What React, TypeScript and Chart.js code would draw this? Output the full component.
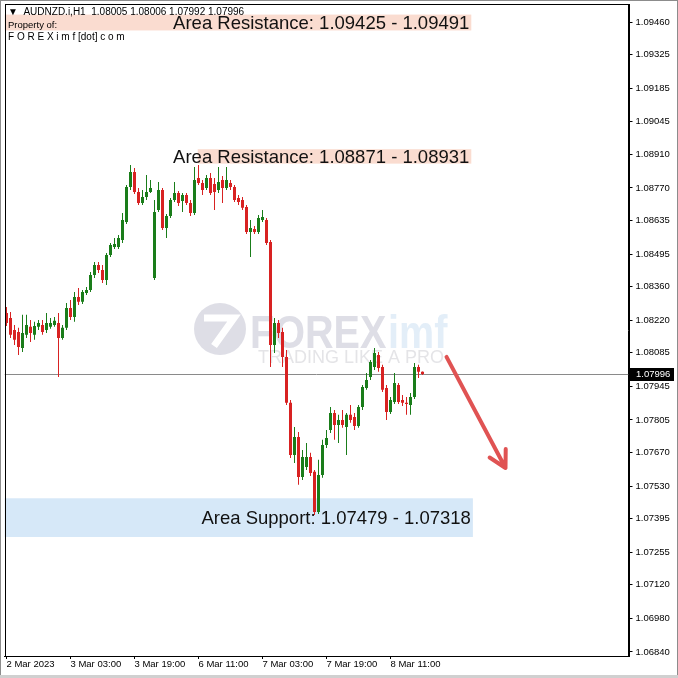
import React, { useEffect, useRef } from 'react';
import { Chart, registerables } from 'chart.js';
Chart.register(...registerables);

const HEADER = '▼  AUDNZD.i,H1  1.08005 1.08006 1.07992 1.07996';
const OWNER_1 = 'Property of:';
const OWNER_2 = 'F O R E X i m f [dot] c o m';

const OPEN = [1.08250,1.08229,1.08179,1.08171,1.08104,1.08159,1.08192,1.08159,1.08192,1.08200,1.08179,1.08192,1.08200,1.08208,1.08146,1.08188,1.08270,1.08233,1.08316,1.08296,1.08333,1.08345,1.08408,1.08449,1.08429,1.08387,1.08491,1.08524,1.08524,1.08553,1.08628,1.08774,1.08836,1.08753,1.08707,1.08732,1.08753,1.08395,1.08678,1.08761,1.08603,1.08653,1.08720,1.08749,1.08716,1.08741,1.08707,1.08666,1.08811,1.08790,1.08770,1.08811,1.08786,1.08761,1.08803,1.08770,1.08790,1.08774,1.08728,1.08720,1.08691,1.08587,1.08599,1.08587,1.08637,1.08637,1.08545,1.08117,1.08208,1.08171,1.08067,1.07876,1.07659,1.07734,1.07568,1.07609,1.07651,1.07589,1.07422,1.07576,1.07701,1.07763,1.07834,1.07784,1.07805,1.07776,1.07826,1.07817,1.07780,1.07859,1.07938,1.07984,1.08025,1.08075,1.08025,1.07938,1.07838,1.07880,1.07950,1.07888,1.07876,1.07867,1.07900,1.08025,1.08005];
const HIGH = [1.08275,1.08254,1.08200,1.08188,1.08242,1.08242,1.08221,1.08213,1.08221,1.08221,1.08250,1.08229,1.08233,1.08250,1.08200,1.08291,1.08304,1.08337,1.08354,1.08345,1.08358,1.08420,1.08462,1.08462,1.08449,1.08499,1.08541,1.08562,1.08574,1.08666,1.08782,1.08865,1.08853,1.08770,1.08761,1.08824,1.08803,1.08720,1.08795,1.08770,1.08662,1.08728,1.08795,1.08757,1.08749,1.08749,1.08720,1.08857,1.08865,1.08803,1.08824,1.08832,1.08811,1.08857,1.08820,1.08857,1.08803,1.08782,1.08741,1.08732,1.08699,1.08637,1.08612,1.08657,1.08678,1.08645,1.08553,1.08229,1.08221,1.08188,1.08096,1.07888,1.07776,1.07755,1.07680,1.07709,1.07668,1.07597,1.07639,1.07722,1.07763,1.07859,1.07846,1.07826,1.07846,1.07834,1.07867,1.07834,1.07867,1.07950,1.08000,1.08054,1.08104,1.08088,1.08034,1.07950,1.07900,1.08000,1.07959,1.07909,1.07900,1.07917,1.08042,1.08034,1.08006];
const LOW = [1.08196,1.08146,1.08117,1.08075,1.08088,1.08146,1.08129,1.08138,1.08179,1.08159,1.08167,1.08184,1.08192,1.07984,1.08138,1.08179,1.08221,1.08213,1.08283,1.08287,1.08325,1.08337,1.08395,1.08416,1.08375,1.08366,1.08483,1.08516,1.08516,1.08541,1.08620,1.08761,1.08745,1.08699,1.08699,1.08720,1.08749,1.08387,1.08670,1.08595,1.08562,1.08645,1.08711,1.08695,1.08670,1.08699,1.08653,1.08657,1.08782,1.08741,1.08761,1.08741,1.08678,1.08749,1.08707,1.08761,1.08761,1.08711,1.08699,1.08678,1.08578,1.08483,1.08578,1.08578,1.08628,1.08533,1.08025,1.08083,1.08146,1.08025,1.07867,1.07647,1.07626,1.07535,1.07555,1.07597,1.07572,1.07410,1.07414,1.07564,1.07688,1.07751,1.07722,1.07709,1.07772,1.07659,1.07793,1.07763,1.07772,1.07846,1.07930,1.07971,1.08013,1.08005,1.07921,1.07805,1.07830,1.07871,1.07871,1.07863,1.07826,1.07826,1.07892,1.07979,1.07992];
const CLOSE = [1.08208,1.08159,1.08138,1.08108,1.08167,1.08200,1.08167,1.08196,1.08208,1.08171,1.08208,1.08208,1.08217,1.08146,1.08188,1.08270,1.08233,1.08316,1.08296,1.08337,1.08345,1.08408,1.08449,1.08429,1.08387,1.08491,1.08533,1.08537,1.08562,1.08637,1.08774,1.08836,1.08753,1.08707,1.08732,1.08753,1.08770,1.08670,1.08761,1.08603,1.08653,1.08720,1.08749,1.08707,1.08741,1.08707,1.08666,1.08803,1.08790,1.08761,1.08811,1.08749,1.08753,1.08795,1.08770,1.08803,1.08774,1.08720,1.08711,1.08687,1.08587,1.08603,1.08587,1.08645,1.08649,1.08541,1.08117,1.08208,1.08167,1.08067,1.07876,1.07659,1.07734,1.07568,1.07651,1.07651,1.07584,1.07422,1.07576,1.07701,1.07730,1.07834,1.07784,1.07805,1.07784,1.07826,1.07805,1.07780,1.07859,1.07942,1.07971,1.08046,1.08083,1.08021,1.07930,1.07838,1.07888,1.07959,1.07880,1.07876,1.07871,1.07900,1.08025,1.08005,1.07996];

const EMPTY_BARS = 51;
const X_TICK_LABELS = ['2 Mar 2023', '3 Mar 03:00', '3 Mar 19:00', '6 Mar 11:00', '7 Mar 03:00', '7 Mar 19:00', '8 Mar 11:00'];
const X_TICK_STEP = 16;
const Y_TICK_LABELS = ['1.06840','1.06980','1.07120','1.07255','1.07395','1.07530','1.07670','1.07805','1.07945','1.08085','1.08220','1.08360','1.08495','1.08635','1.08770','1.08910','1.09045','1.09185','1.09325','1.09460'];
const Y_MIN = 1.06823;
const Y_MAX = 1.09535;
const LAST_PRICE = 1.07996;

const RES_ZONE_1 = [1.09425, 1.09491];
const RES_ZONE_1_X = [-0.5, 116.2];
const RES_ZONE_2 = [1.08871, 1.08931];
const RES_ZONE_2_X = [47.8, 116.2];
const SUP_ZONE = [1.07318, 1.07479];
const SUP_ZONE_X = [-0.5, 116.6];
const RES_LABEL_1 = 'Area Resistance: 1.09425 - 1.09491';
const RES_LABEL_2 = 'Area Resistance: 1.08871 - 1.08931';
const SUP_LABEL = 'Area Support: 1.07479 - 1.07318';

const ARROW_FROM = [110, 1.08067];
const ARROW_TO = [124.75, 1.07605];

const UP = '#1a7d1a';
const DOWN = '#d82222';
const FONT = '"Liberation Sans", Arial, sans-serif';

export default function App() {
  const ref = useRef<HTMLCanvasElement>(null);
  useEffect(() => {
    const canvas = ref.current!;
    const n = OPEN.length + EMPTY_BARS;
    const labels = Array.from({ length: n }, (_, i) => String(i));
    const colors = OPEN.map((o, i) => (CLOSE[i] >= o ? UP : DOWN));

    const deco = {
      id: 'deco',
      beforeDraw(chart: any) {
        const { ctx } = chart;
        ctx.save();
        ctx.fillStyle = '#ffffff';
        ctx.fillRect(0, 0, chart.width, chart.height);
        ctx.restore();
      },
      beforeDatasetsDraw(chart: any) {
        const { ctx, chartArea: a, scales } = chart;
        const x = scales.x, y = scales.y;
        ctx.save();
        ctx.beginPath();
        ctx.rect(a.left, a.top, a.right - a.left, a.bottom - a.top);
        ctx.clip();
        const zone = (p: number[], xs: number[], col: string) => {
          const x1 = x.getPixelForValue(xs[0]);
          const x2 = x.getPixelForValue(xs[1]);
          const y1 = y.getPixelForValue(p[1]);
          const y2 = y.getPixelForValue(p[0]);
          ctx.fillStyle = col;
          ctx.fillRect(x1, y1, x2 - x1, y2 - y1);
        };
        zone(RES_ZONE_1, RES_ZONE_1_X, '#fadcd0');
        zone(RES_ZONE_2, RES_ZONE_2_X, '#fadcd0');
        zone(SUP_ZONE, SUP_ZONE_X, '#d6e8f8');

        // watermark
        ctx.fillStyle = 'rgba(190,190,205,0.5)';
        ctx.beginPath();
        ctx.arc(220, 329, 26, 0, Math.PI * 2);
        ctx.fill();
        ctx.strokeStyle = '#ffffff';
        ctx.lineWidth = 7;
        ctx.beginPath();
        ctx.moveTo(204, 318);
        ctx.lineTo(234, 318);
        ctx.lineTo(214, 346);
        ctx.stroke();
        ctx.save();
        ctx.translate(250, 348);
        ctx.scale(0.86, 1);
        ctx.font = `bold 46px ${FONT}`;
        ctx.textBaseline = 'alphabetic';
        ctx.fillStyle = 'rgba(190,190,205,0.5)';
        ctx.fillText('FOREX', 0, 0);
        const w = ctx.measureText('FOREX').width;
        ctx.fillStyle = 'rgba(200,222,242,0.5)';
        ctx.fillText('imf', w + 2, 0);
        ctx.restore();
        ctx.font = `18px ${FONT}`;
        ctx.fillStyle = 'rgba(205,205,212,0.55)';
        ctx.textBaseline = 'middle';
        ctx.fillText('TRADING LIKE A PRO', 258, 358);

        // current price line
        const py = Math.round(y.getPixelForValue(LAST_PRICE)) + 0.5;
        ctx.strokeStyle = '#8a8a8a';
        ctx.lineWidth = 1;
        ctx.beginPath();
        ctx.moveTo(a.left, py);
        ctx.lineTo(a.right, py);
        ctx.stroke();
        ctx.restore();
      },
      afterDatasetsDraw(chart: any) {
        const { ctx, scales } = chart;
        const x = scales.x, y = scales.y;
        ctx.save();
        ctx.font = `18.5px ${FONT}`;
        ctx.fillStyle = '#111111';
        ctx.textAlign = 'right';
        ctx.textBaseline = 'middle';
        const label = (t: string, p: number[], xs: number[]) => {
          const xr = x.getPixelForValue(xs[1]) - 2;
          const yc = (y.getPixelForValue(p[0]) + y.getPixelForValue(p[1])) / 2 + 1;
          ctx.fillText(t, xr, yc);
        };
        label(RES_LABEL_1, RES_ZONE_1, RES_ZONE_1_X);
        label(RES_LABEL_2, RES_ZONE_2, RES_ZONE_2_X);
        label(SUP_LABEL, SUP_ZONE, SUP_ZONE_X);

        // arrow
        const x1 = x.getPixelForValue(ARROW_FROM[0]);
        const y1 = y.getPixelForValue(ARROW_FROM[1]);
        const x2 = x.getPixelForValue(ARROW_TO[0]);
        const y2 = y.getPixelForValue(ARROW_TO[1]);
        const ang = Math.atan2(y2 - y1, x2 - x1);
        ctx.strokeStyle = '#e05353';
        ctx.lineWidth = 4;
        ctx.lineCap = 'round';
        ctx.beginPath();
        ctx.moveTo(x1, y1);
        ctx.lineTo(x2, y2);
        const L = 19;
        ctx.moveTo(x2, y2);
        ctx.lineTo(x2 - L * Math.cos(ang - 0.5), y2 - L * Math.sin(ang - 0.5));
        ctx.moveTo(x2, y2);
        ctx.lineTo(x2 - L * Math.cos(ang + 0.5), y2 - L * Math.sin(ang + 0.5));
        ctx.stroke();
        ctx.restore();
      },
      afterDraw(chart: any) {
        const { ctx, chartArea: a, scales } = chart;
        const y = scales.y;
        ctx.save();
        ctx.strokeStyle = '#000000';
        ctx.lineWidth = 1;
        ctx.strokeRect(Math.round(a.left) + 0.5, Math.round(a.top) + 0.5, Math.round(a.right - a.left), Math.round(a.bottom - a.top));
        ctx.strokeStyle = '#8c8c8c';
        ctx.strokeRect(0.5, 0.5, chart.width - 1, chart.height - 1);
        ctx.fillStyle = '#d0d0d0';
        ctx.fillRect(0, chart.height - 3, chart.width, 3);

        // header
        ctx.fillStyle = '#000000';
        ctx.textBaseline = 'middle';
        ctx.textAlign = 'left';
        ctx.font = `10px ${FONT}`;
        ctx.fillText(HEADER, 8, 12);
        ctx.font = `9.5px ${FONT}`;
        ctx.fillText(OWNER_1, 8, 25);
        ctx.font = `10px ${FONT}`;
        ctx.fillText(OWNER_2, 8, 37);

        // last price box
        const py = Math.round(y.getPixelForValue(LAST_PRICE));
        ctx.fillStyle = '#000000';
        ctx.fillRect(Math.round(a.right) + 1, py - 6, 44, 13);
        ctx.fillStyle = '#ffffff';
        ctx.font = `9.5px ${FONT}`;
        ctx.fillText(LAST_PRICE.toFixed(5), Math.round(a.right) + 7, py + 0.5);
        ctx.restore();
      },
    };

    const chart = new Chart(canvas, {
      type: 'bar',
      data: {
        labels,
        datasets: [
          {
            label: 'wick',
            data: LOW.map((l, i) => [l, HIGH[i]]) as any,
            backgroundColor: colors,
            barThickness: 1,
            grouped: false,
            inflateAmount: 0,
            borderWidth: 0,
            order: 2,
          } as any,
          {
            label: 'body',
            data: OPEN.map((o, i) => [o, CLOSE[i]]) as any,
            backgroundColor: colors,
            barThickness: 3,
            grouped: false,
            inflateAmount: 0,
            borderWidth: 0,
            minBarLength: 1,
            order: 1,
          } as any,
        ],
      },
      options: {
        responsive: false,
        animation: false,
        devicePixelRatio: 1,
        layout: { padding: { left: 4.5, top: 4, right: 0, bottom: 0 } },
        plugins: { legend: { display: false }, tooltip: { enabled: false } },
        scales: {
          x: {
            type: 'category',
            offset: true,
            afterFit: (s: any) => { s.height = 22; s.paddingLeft = 0; s.paddingRight = 0; },
            afterBuildTicks: (s: any) => { s.ticks = X_TICK_LABELS.map((_, k) => ({ value: k * X_TICK_STEP })); },
            ticks: {
              autoSkip: false,
              maxRotation: 0,
              minRotation: 0,
              align: 'start',
              padding: 0,
              color: '#000000',
              font: { family: FONT, size: 9.5 },
              callback: (_v: any, i: number) => X_TICK_LABELS[i],
            },
            grid: { drawOnChartArea: false, tickLength: 3, tickColor: '#000000', offset: false },
            border: { color: '#000000' },
          },
          y: {
            position: 'right',
            min: Y_MIN,
            max: Y_MAX,
            afterFit: (s: any) => { s.width = 49.5; s.paddingTop = 0; s.paddingBottom = 0; },
            afterBuildTicks: (s: any) => { s.ticks = Y_TICK_LABELS.map((t) => ({ value: parseFloat(t) })); },
            ticks: {
              autoSkip: false,
              padding: 3,
              color: '#000000',
              font: { family: FONT, size: 9.5 },
              callback: (_v: any, i: number) => Y_TICK_LABELS[i],
            },
            grid: { drawOnChartArea: false, tickLength: 4, tickColor: '#000000' },
            border: { color: '#000000' },
          },
        },
      },
      plugins: [deco],
    } as any);
    return () => chart.destroy();
  }, []);

  return (
    <div style={{ position: 'fixed', left: 0, top: 0, width: 678, height: 678, background: '#ffffff' }}>
      <canvas ref={ref} width={678} height={678} style={{ width: 678, height: 678, display: 'block' }} />
    </div>
  );
}
